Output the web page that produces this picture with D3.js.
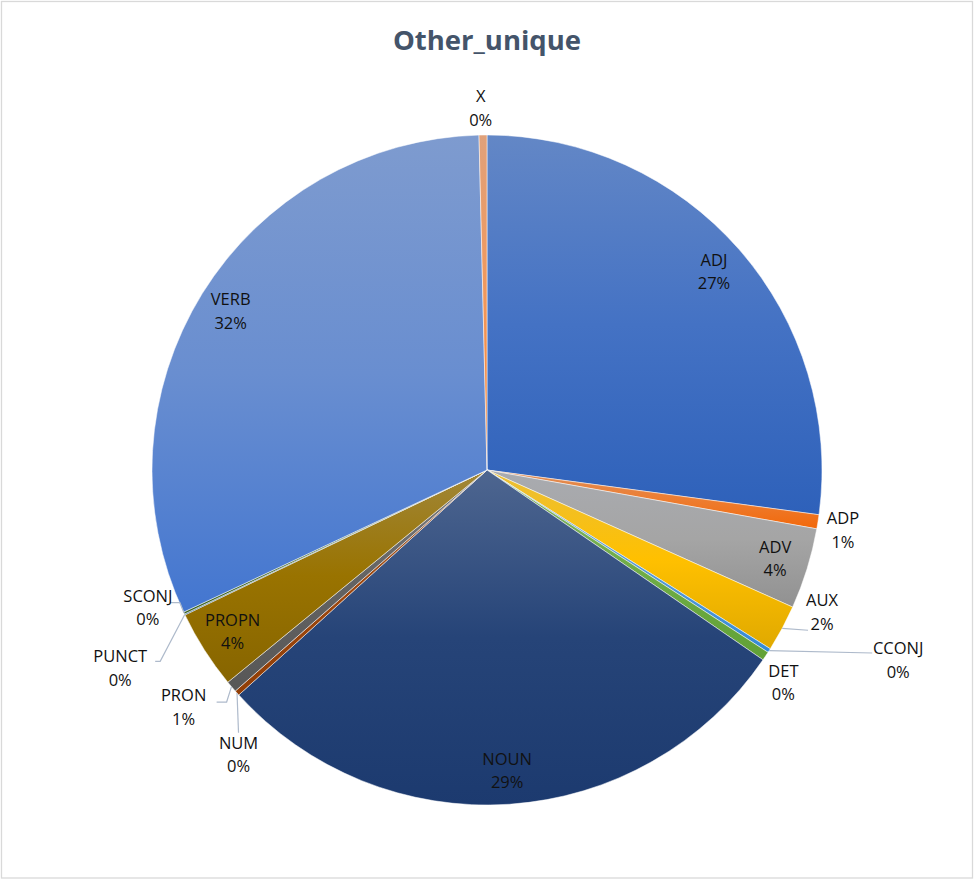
<!DOCTYPE html>
<html>
<head>
<meta charset="utf-8">
<script src="https://cdn.jsdelivr.net/npm/d3@7"></script>
<style>
  body { margin: 0; background: #fff; }
  svg { display: block; }
</style>
</head>
<body>
<div id="chart"></div>
<script>
// data (share of each tag, in percent)
var categories = ["ADJ", "ADP", "ADV", "AUX", "CCONJ", "DET", "NOUN", "NUM", "PRON", "PROPN", "PUNCT", "SCONJ", "VERB", "X"];
var shares = [27.14, 0.68, 3.90, 2.25, 0.20, 0.43, 28.70, 0.25, 0.55, 3.80, 0.05, 0.10, 31.60, 0.38];
var sliceColors = ["#4472C4", "#ED7D31", "#A5A5A5", "#FFC000", "#5B9BD5", "#70AD47", "#264478",
                   "#9E480E", "#636363", "#997300", "#255E91", "#43682B", "#698ED0", "#F1975A"];
var chartTitle = "Other_unique";

var width = 974, height = 881;
var cx = 487, cy = 470, R = 335;

// where excel put the labels that sit outside the pie (angle in degrees, distance from centre)
var outsideLabels = {
  ADP:   { a: 99.6,  r: 361 },
  AUX:   { a: 113.0, r: 364, leader: [[-14, 18]] },
  CCONJ: { a: 114.8, r: 453, leader: [[-26, -7]] },
  DET:   { a: 125.7, r: 365 },
  NUM:   { a: 221.1, r: 378, leader: [[0, -22]] },
  PRON:  { a: 232.0, r: 385, leader: [[43, -5], [33, -5]] },
  PUNCT: { a: 241.6, r: 417, leader: [[40, -7], [35, -7]] },
  SCONJ: { a: 247.9, r: 366, leader: [[32, -5], [22, -5]] },
  X:     { a: 359.0, r: 362 }
};

var rows = categories.map(function(c, i) { return { name: c, value: shares[i], color: sliceColors[i] }; });

var svg = d3.select("#chart").append("svg")
    .attr("width", width)
    .attr("height", height);

svg.append("rect")
    .attr("x", 1.5).attr("y", 1.5)
    .attr("width", 971).attr("height", 876.5)
    .attr("fill", "#fff")
    .attr("stroke", "#D9D9D9")
    .attr("stroke-width", 1.3);

svg.append("text")
    .attr("x", cx).attr("y", 50)
    .attr("text-anchor", "middle")
    .attr("font-family", "'Open Sans', sans-serif")
    .attr("font-weight", "bold")
    .attr("font-size", 27.5)
    .attr("fill", "#44546A")
    .text(chartTitle);

// office style gradient: washed out at the top, deeper at the bottom
var defs = svg.append("defs");
rows.forEach(function(d, i) {
  var base = d3.hsl(d.color);
  var top = d3.interpolateRgb(d.color, "#b4bccc")(0.28);
  var bottom = d3.hsl(base.h, Math.min(1, base.s + 0.08), base.l * 0.88);
  var g = defs.append("linearGradient")
      .attr("id", "grad" + i)
      .attr("x1", "0%").attr("y1", "0%")
      .attr("x2", "0%").attr("y2", "100%");
  g.append("stop").attr("offset", "0%").attr("stop-color", top);
  g.append("stop").attr("offset", "50%").attr("stop-color", d.color);
  g.append("stop").attr("offset", "100%").attr("stop-color", bottom.formatHex());
});

var pie = d3.pie()
    .sort(null)
    .value(function(d) { return d.value; });

var arc = d3.arc().innerRadius(0).outerRadius(R);

var arcs = pie(rows);

var g = svg.append("g").attr("transform", "translate(" + cx + "," + cy + ")");

g.selectAll("path.slice")
    .data(arcs)
  .enter().append("path")
    .attr("class", "slice")
    .attr("d", arc)
    .attr("fill", function(d, i) { return "url(#grad" + i + ")"; })
    .attr("stroke", "#fff")
    .attr("stroke-width", 0.5);

function polar(angleRad, r) {
  return [r * Math.sin(angleRad), -r * Math.cos(angleRad)];
}

var labelData = arcs.map(function(d) {
  var mid = (d.startAngle + d.endAngle) / 2;
  var o = outsideLabels[d.data.name];
  var pos = o ? polar(o.a * Math.PI / 180, o.r) : polar(mid, R * 0.9);
  return { d: d, mid: mid, pos: pos, o: o };
});

// leader lines
var line = d3.line();
g.selectAll("path.leader")
    .data(labelData.filter(function(l) { return l.o && l.o.leader; }))
  .enter().append("path")
    .attr("class", "leader")
    .attr("d", function(l) {
      var pts = [polar(l.mid, R)];
      l.o.leader.forEach(function(p) { pts.push([l.pos[0] + p[0], l.pos[1] + p[1]]); });
      return line(pts);
    })
    .attr("fill", "none")
    .attr("stroke", "#AEBACB")
    .attr("stroke-width", 1.2);

var labels = g.selectAll("text.lbl")
    .data(labelData)
  .enter().append("text")
    .attr("class", "lbl")
    .attr("text-anchor", "middle")
    .attr("font-family", "'Open Sans', sans-serif")
    .attr("font-size", 16.5)
    .attr("fill", "#111");

labels.append("tspan")
    .attr("x", function(l) { return l.pos[0]; })
    .attr("y", function(l) { return l.pos[1] - 6; })
    .text(function(l) { return l.d.data.name; });

labels.append("tspan")
    .attr("x", function(l) { return l.pos[0]; })
    .attr("y", function(l) { return l.pos[1] + 17.5; })
    .text(function(l) { return d3.format(".0f")(l.d.data.value) + "%"; });
</script>
</body>
</html>
